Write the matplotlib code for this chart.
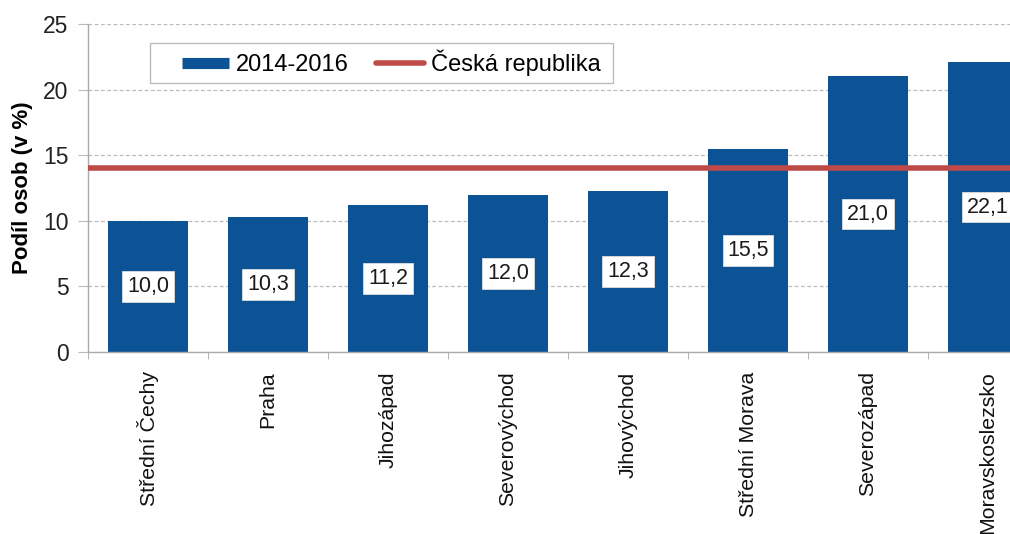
import matplotlib
matplotlib.use("Agg")
import matplotlib.pyplot as plt
import numpy as np
from matplotlib.lines import Line2D
from matplotlib.patches import Rectangle

categories = ["Střední Čechy", "Praha", "Jihozápad", "Severovýchod", "Jihovýchod",
              "Střední Morava", "Severozápad", "Moravskoslezsko"]
values = [10.0, 10.3, 11.2, 12.0, 12.3, 15.5, 21.0, 22.1]
cr_value = 14.0
series_label = "2014-2016"
cr_label = "Česká republika"
yticks = [0, 5, 10, 15, 20, 25]

plt.rcParams['font.family'] = ['Liberation Sans', 'DejaVu Sans']

W, H = 1010, 534
fig = plt.figure(figsize=(W/100, H/100), dpi=100)
left, right, top, bottom = 88, 1048, 24, 352
AW, AH = right-left, bottom-top
ax = fig.add_axes([left/W, 1-bottom/H, AW/W, AH/H])

bar_color = "#0B5394"
red = "#BE4B48"
x = np.arange(len(categories))
ax.bar(x, values, width=0.667, color=bar_color, zorder=2, label=series_label)
ax.axhline(cr_value, color=red, lw=4.0, zorder=3, label=cr_label)

for xi, v in zip(x, values):
    ax.text(xi, v/2, f"{v:.1f}".replace('.', ','), ha='center', va='center', fontsize=15.5,
            color='#1a1a1a', zorder=4,
            bbox=dict(boxstyle='square,pad=0.22', fc='white', ec='#DDDDDD', lw=0.6))

ax.set_xlim(-0.5, len(categories)-0.5)
ax.set_ylim(0, 25)
ax.set_yticks(yticks)
ax.set_yticklabels([str(t) for t in yticks], fontsize=16.5, color='#222222')
ax.yaxis.grid(True, color='#BBBBBB', ls=(0, (3, 2)), lw=0.9, zorder=0)
ax.set_axisbelow(True)

ax.set_xticks(x)
ax.set_xticklabels(categories, rotation=90, fontsize=15.3, color='#111111')
ax.tick_params(axis='x', length=0, pad=14)
ax.set_xticks(np.arange(-0.5, len(categories), 1), minor=True)
ax.tick_params(axis='x', which='minor', length=5, color='#AAAAAA', direction='out')
ax.tick_params(axis='y', length=7, color='#BBBBBB', pad=7)

for s in ['top', 'right']:
    ax.spines[s].set_visible(False)
for s in ['left', 'bottom']:
    ax.spines[s].set_color('#AAAAAA')
    ax.spines[s].set_linewidth(1.0)

ax.set_ylabel("Podíl osob (v %)", fontsize=16, fontweight='bold')
ax.yaxis.set_label_coords(-(88-33)/AW, 0.5)

# legend frame
ax.add_patch(Rectangle(((150-left)/AW, 1-(83-top)/AH), 463/AW, 40/AH,
                       transform=ax.transAxes, fc='white', ec='#BBBBBB', lw=1.0,
                       zorder=5, clip_on=False))
h = [Line2D([0], [0], color=bar_color, lw=8, solid_capstyle='butt'),
     Line2D([0], [0], color=red, lw=4.0, solid_capstyle='round')]
leg = ax.legend(h, [series_label, cr_label], loc='center left', ncol=2,
                bbox_to_anchor=((182-left)/AW, 1-(63-top)/AH), fontsize=17, frameon=False,
                handlelength=2.0, handletextpad=0.3, columnspacing=1.15,
                borderpad=0, borderaxespad=0)
leg.set_zorder(6)

fig.savefig("out.png", dpi=100)
